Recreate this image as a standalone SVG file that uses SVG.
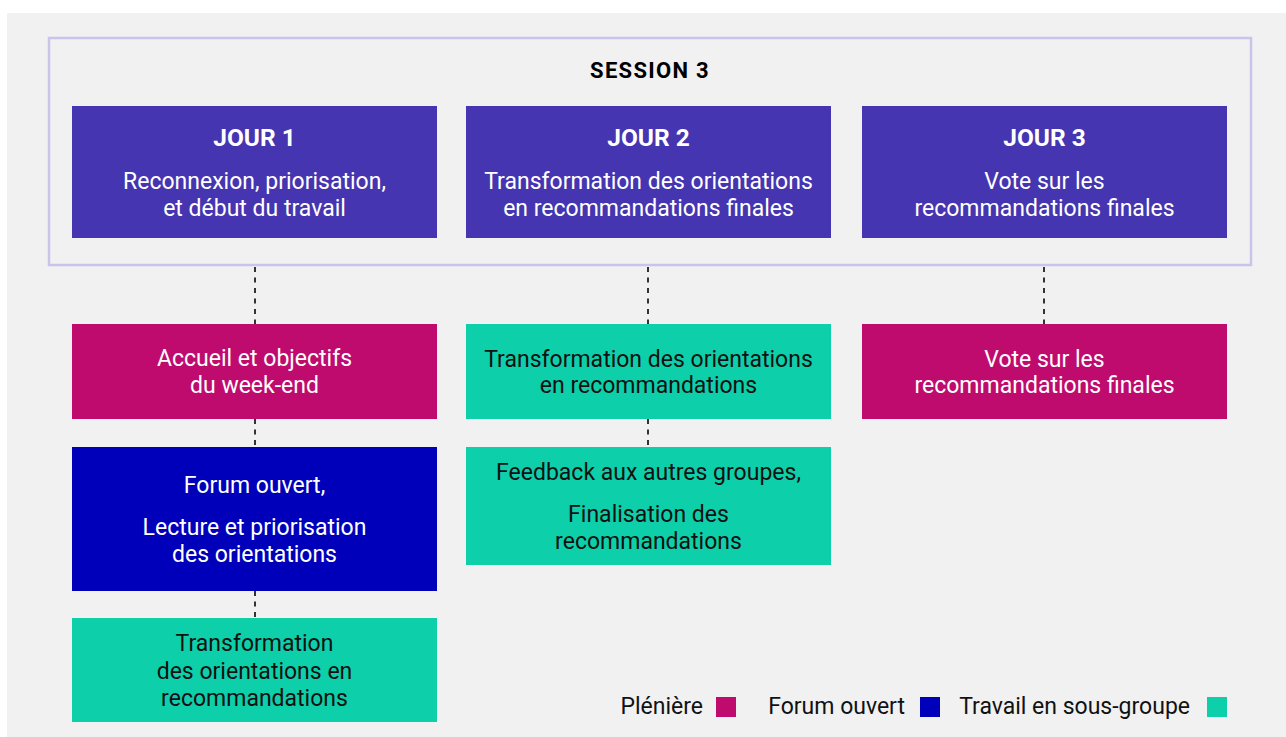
<svg xmlns="http://www.w3.org/2000/svg" width="1286" height="737" viewBox="0 0 1286 737">
<style>
.t{font-family:Roboto,"Liberation Sans",sans-serif;font-size:23px;text-anchor:middle}
.w{fill:#ffffff}
.k{fill:#111111}
.b{font-weight:bold;font-size:24.5px}
.jour{fill:#4535b0}
.plen{fill:#bf0b6e}
.forum{fill:#0000bb}
.sg{fill:#0dcfaa}
.dash{stroke:#333333;stroke-width:2;stroke-dasharray:5 5.5;fill:none}
.lg{font-family:Roboto,"Liberation Sans",sans-serif;font-size:23px;fill:#111111;text-anchor:end}
</style>
<rect x="0" y="0" width="1286" height="737" fill="#ffffff"/>
<rect x="7" y="13" width="1279" height="724" fill="#f1f1f1"/>
<rect id="session" x="49" y="38" width="1202" height="227" fill="none" stroke="#c9c4ea" stroke-width="2.5"/>
<text x="650" y="77.5" font-family="Roboto,'Liberation Sans',sans-serif" font-size="22" font-weight="bold" letter-spacing="1.3" text-anchor="middle" fill="#000000">SESSION 3</text>

<g id="connectors">
<line class="dash" x1="255" y1="267" x2="255" y2="324"/>
<line class="dash" x1="648" y1="267" x2="648" y2="324"/>
<line class="dash" x1="1044" y1="267" x2="1044" y2="324"/>
<line class="dash" x1="255" y1="419" x2="255" y2="447"/>
<line class="dash" x1="255" y1="591" x2="255" y2="618"/>
<line class="dash" x1="648" y1="419" x2="648" y2="447"/>
</g>

<g id="jour1">
<rect class="jour" x="72" y="106" width="365" height="132"/>
<text class="t w b" x="254.5" y="146">JOUR 1</text>
<text class="t w" x="254.5" y="189">Reconnexion, priorisation,</text>
<text class="t w" x="254.5" y="216">et début du travail</text>
</g>
<g id="jour2">
<rect class="jour" x="466" y="106" width="365" height="132"/>
<text class="t w b" x="648.5" y="146">JOUR 2</text>
<text class="t w" x="648.5" y="189">Transformation des orientations</text>
<text class="t w" x="648.5" y="216">en recommandations finales</text>
</g>
<g id="jour3">
<rect class="jour" x="862" y="106" width="365" height="132"/>
<text class="t w b" x="1044.5" y="146">JOUR 3</text>
<text class="t w" x="1044.5" y="189">Vote sur les</text>
<text class="t w" x="1044.5" y="216">recommandations finales</text>
</g>

<g id="accueil">
<rect class="plen" x="72" y="324" width="365" height="95"/>
<text class="t w" x="254.5" y="366">Accueil et objectifs</text>
<text class="t w" x="254.5" y="393">du week-end</text>
</g>
<g id="forum">
<rect class="forum" x="72" y="447" width="365" height="144"/>
<text class="t w" x="254.5" y="493">Forum ouvert,</text>
<text class="t w" x="254.5" y="535">Lecture et priorisation</text>
<text class="t w" x="254.5" y="562">des orientations</text>
</g>
<g id="transfo1">
<rect class="sg" x="72" y="618" width="365" height="104"/>
<text class="t k" x="254.5" y="651">Transformation</text>
<text class="t k" x="254.5" y="679">des orientations en</text>
<text class="t k" x="254.5" y="706">recommandations</text>
</g>
<g id="transfo2">
<rect class="sg" x="466" y="324" width="365" height="95"/>
<text class="t k" x="648.5" y="367">Transformation des orientations</text>
<text class="t k" x="648.5" y="393">en recommandations</text>
</g>
<g id="feedback">
<rect class="sg" x="466" y="447" width="365" height="118"/>
<text class="t k" x="648.5" y="480">Feedback aux autres groupes,</text>
<text class="t k" x="648.5" y="522">Finalisation des</text>
<text class="t k" x="648.5" y="549">recommandations</text>
</g>
<g id="vote">
<rect class="plen" x="862" y="324" width="365" height="95"/>
<text class="t w" x="1044.5" y="367">Vote sur les</text>
<text class="t w" x="1044.5" y="393">recommandations finales</text>
</g>

<g id="legend">
<text class="lg" x="703" y="714">Plénière</text>
<rect class="plen" x="716" y="697" width="20" height="20"/>
<text class="lg" x="905" y="714">Forum ouvert</text>
<rect class="forum" x="920" y="697" width="20" height="20"/>
<text class="lg" x="1190" y="714">Travail en sous-groupe</text>
<rect class="sg" x="1207" y="697" width="20" height="20"/>
</g>
</svg>
